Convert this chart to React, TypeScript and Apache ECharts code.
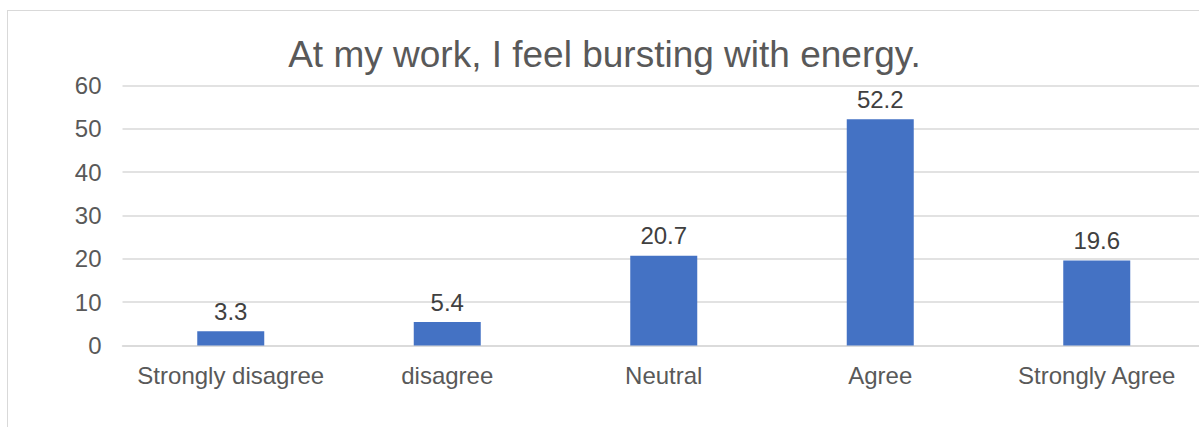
import React, { useEffect, useRef } from "react";
import * as echarts from "echarts";

const titleText = "At my work, I feel bursting with energy.";
const categories = ["Strongly disagree", "disagree", "Neutral", "Agree", "Strongly Agree"];
const percentages = [3.3, 5.4, 20.7, 52.2, 19.6];
const yMin = 0;
const yMax = 60;
const yStep = 10;

const FONT = '"Liberation Sans", Arial, sans-serif';

export default function App() {
  const ref = useRef<HTMLDivElement>(null);

  useEffect(() => {
    if (!ref.current) return;
    const chart = echarts.init(ref.current, null, { renderer: "svg" });
    chart.setOption({
      animation: false,
      backgroundColor: "#ffffff",
      textStyle: { fontFamily: FONT },
      title: {
        text: titleText,
        left: 596.5,
        top: 25,
        padding: 0,
        textAlign: "center",
        textStyle: { fontFamily: FONT, fontSize: 37, fontWeight: "normal", color: "#595959" },
      },
      grid: { left: 114.5, top: 74.5, width: 1082.5, height: 260, containLabel: false },
      xAxis: {
        type: "category",
        data: categories,
        axisLine: { show: true, lineStyle: { color: "#d9d9d9", width: 1.5 } },
        axisTick: { show: false },
        axisLabel: { fontFamily: FONT, fontSize: 24, color: "#595959", margin: 18, interval: 0 },
      },
      yAxis: {
        type: "value",
        min: yMin,
        max: yMax,
        interval: yStep,
        axisLine: { show: false },
        axisTick: { show: false },
        splitLine: { lineStyle: { color: "#d9d9d9", width: 1.5 } },
        axisLabel: { fontFamily: FONT, fontSize: 24, color: "#595959", margin: 21 },
      },
      series: [
        {
          type: "bar",
          data: percentages,
          barWidth: 67,
          itemStyle: { color: "#4472c4" },
          label: {
            show: true,
            position: "top",
            distance: 8,
            fontFamily: FONT,
            fontSize: 24,
            color: "#404040",
          },
        },
      ],
    });
    return () => chart.dispose();
  }, []);

  return (
    <div
      style={{
        position: "fixed",
        left: 7,
        top: 10,
        width: 1260,
        height: 450,
        border: "1.5px solid #d9d9d9",
        background: "#ffffff",
        overflow: "hidden",
      }}
    >
      <div ref={ref} style={{ width: 1255, height: 445 }} />
    </div>
  );
}
